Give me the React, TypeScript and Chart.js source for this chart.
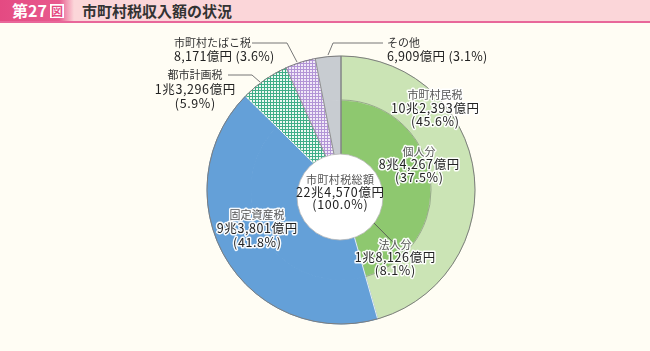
import React, { useEffect, useRef } from "react";
import { Chart, registerables } from "chart.js";

Chart.register(...registerables);

// ---- data (億円) ----
const categories = ["市町村民税", "固定資産税", "都市計画税", "市町村たばこ税", "その他"];
const amounts = [102393, 93801, 13296, 8171, 6909];
const percents = ["45.6%", "41.8%", "5.9%", "3.6%", "3.1%"];
const subCategories = ["個人分", "法人分"];
const subAmounts = [84267, 18126];
const subPercents = ["37.5%", "8.1%"];
const totalLabel = "市町村税総額";
const totalAmount = 224570;
const totalPercent = "100.0%";
const figNo = "第27";
const title = "市町村税収入額の状況";

const FONT = '"Noto Sans CJK JP", "Noto Sans", sans-serif';

function formatOku(n: number): string {
  const cho = Math.floor(n / 10000);
  const rest = n % 10000;
  const restStr = rest.toLocaleString("en-US");
  return cho > 0 ? `${cho}兆${restStr}億円` : `${restStr}億円`;
}

function makePattern(line: string, fill: string): CanvasPattern | string {
  const c = document.createElement("canvas");
  c.width = 3;
  c.height = 3;
  const g = c.getContext("2d");
  if (!g) return line;
  g.fillStyle = line;
  g.fillRect(0, 0, 3, 3);
  g.fillStyle = fill;
  g.fillRect(1, 1, 2, 2);
  const p = g.createPattern(c, "repeat");
  return p || line;
}

export default function App() {
  const ref = useRef<HTMLCanvasElement | null>(null);

  useEffect(() => {
    document.body.style.margin = "0";
    const canvas = ref.current;
    if (!canvas) return;

    const teal = makePattern("#3fae88", "#eef9f3");
    const lilac = makePattern("#b295d6", "#f1e9f8");
    const colors: any[] = ["#cbe4b5", "#64a0d8", teal, lilac, "#c8ccd1"];
    const innerColors: any[] = ["#8ec86f", "#8ec86f", ...colors.slice(1)];

    const drawLines = (
      ctx: CanvasRenderingContext2D,
      lines: { t: string; c: string; s: number; ls?: number }[],
      x: number,
      y: number,
      align: CanvasTextAlign,
      halo: boolean,
      gap = 13
    ) => {
      ctx.textAlign = "left";
      ctx.textBaseline = "middle";
      lines.forEach((l, i) => {
        ctx.font = `${l.s}px ${FONT}`;
        const ls = l.ls || 0;
        (ctx as any).letterSpacing = `${ls}px`;
        const w = ctx.measureText(l.t).width - ls;
        const xx = align === "center" ? x - w / 2 : align === "right" ? x - w : x;
        const yy = y + i * gap;
        if (halo) {
          ctx.lineJoin = "round";
          ctx.lineWidth = 3;
          ctx.strokeStyle = "rgba(255,255,255,0.95)";
          ctx.strokeText(l.t, xx, yy);
        }
        ctx.fillStyle = l.c;
        ctx.fillText(l.t, xx, yy);
        (ctx as any).letterSpacing = "0px";
      });
    };

    const NS = 11; // name size
    const VS = 12.5; // value size
    const LS = 0.6; // value letter spacing

    const decor = {
      id: "decor",
      afterDatasetsDraw(chart: any) {
        const ctx: CanvasRenderingContext2D = chart.ctx;
        const outer = chart.getDatasetMeta(0).data as any[];
        const inner = chart.getDatasetMeta(1).data as any[];
        const a0 = outer[0];
        const cx = a0.x;
        const cy = a0.y;
        const R = a0.outerRadius;
        const rMid = a0.innerRadius;
        const r0 = inner[0].innerRadius;
        ctx.save();

        // slice separators
        const sepColors = ["#555", "#f4f4f4", "#f4f4f4", "#8a8a8a", "#8a8a8a"];
        outer.forEach((arc: any, i: number) => {
          const ang = arc.startAngle;
          ctx.beginPath();
          ctx.moveTo(cx + r0 * Math.cos(ang), cy + r0 * Math.sin(ang));
          ctx.lineTo(cx + R * Math.cos(ang), cy + R * Math.sin(ang));
          ctx.strokeStyle = sepColors[i];
          ctx.lineWidth = 0.9;
          ctx.stroke();
        });
        // 個人分 / 法人分 separator
        const angSub = inner[0].endAngle;
        ctx.beginPath();
        ctx.moveTo(cx + r0 * Math.cos(angSub), cy + r0 * Math.sin(angSub));
        ctx.lineTo(cx + rMid * Math.cos(angSub), cy + rMid * Math.sin(angSub));
        ctx.strokeStyle = "#555";
        ctx.lineWidth = 0.9;
        ctx.stroke();
        // inner green arc boundary
        ctx.beginPath();
        ctx.arc(cx, cy, rMid, a0.startAngle, a0.endAngle);
        ctx.strokeStyle = "#8a9a80";
        ctx.lineWidth = 0.8;
        ctx.stroke();
        // outer outline
        ctx.beginPath();
        ctx.arc(cx, cy, R, 0, Math.PI * 2);
        ctx.strokeStyle = "#7d7d7d";
        ctx.lineWidth = 1;
        ctx.stroke();

        // white centre disc
        ctx.beginPath();
        ctx.arc(cx - 1, cy + 7, 43, 0, Math.PI * 2);
        ctx.fillStyle = "#ffffff";
        ctx.fill();
        ctx.strokeStyle = "#b8b8b8";
        ctx.lineWidth = 0.8;
        ctx.stroke();

        const nameC = "#555";
        const valC = "#222";

        // centre label
        drawLines(
          ctx,
          [
            { t: totalLabel, c: nameC, s: NS, ls: 0.4 },
            { t: formatOku(totalAmount), c: valC, s: VS, ls: LS },
            { t: `(${totalPercent})`, c: valC, s: VS, ls: LS },
          ],
          cx - 1,
          cy - 10,
          "center",
          false,
          12
        );
        // 市町村民税
        drawLines(
          ctx,
          [
            { t: categories[0], c: nameC, s: NS },
            { t: formatOku(amounts[0]), c: valC, s: VS, ls: LS },
            { t: `(${percents[0]})`, c: valC, s: VS, ls: LS },
          ],
          cx + 94,
          cy - 95,
          "center",
          true
        );
        // 個人分
        drawLines(
          ctx,
          [
            { t: subCategories[0], c: nameC, s: NS },
            { t: formatOku(subAmounts[0]), c: valC, s: VS, ls: LS },
            { t: `(${subPercents[0]})`, c: valC, s: VS, ls: LS },
          ],
          cx + 78,
          cy - 38,
          "center",
          true,
          12.5
        );
        // 法人分
        drawLines(
          ctx,
          [
            { t: subCategories[1], c: nameC, s: NS },
            { t: formatOku(subAmounts[1]), c: valC, s: VS, ls: LS },
            { t: `(${subPercents[1]})`, c: valC, s: VS, ls: LS },
          ],
          cx + 54,
          cy + 55,
          "center",
          true,
          12.5
        );
        // 固定資産税
        drawLines(
          ctx,
          [
            { t: categories[1], c: nameC, s: NS },
            { t: formatOku(amounts[1]), c: valC, s: VS, ls: LS },
            { t: `(${percents[1]})`, c: valC, s: VS, ls: LS },
          ],
          cx - 84,
          cy + 25,
          "center",
          true,
          13.5
        );
        // 都市計画税
        drawLines(
          ctx,
          [
            { t: categories[2], c: "#333", s: NS },
            { t: formatOku(amounts[2]), c: valC, s: VS, ls: LS },
            { t: `(${percents[2]})`, c: valC, s: VS, ls: LS },
          ],
          cx - 146,
          cy - 115,
          "center",
          false,
          14
        );
        // 市町村たばこ税
        drawLines(
          ctx,
          [
            { t: categories[3], c: "#333", s: NS },
            { t: `${formatOku(amounts[3])} (${percents[3]})`, c: valC, s: VS, ls: 0.3 },
          ],
          cx - 167,
          cy - 147,
          "left",
          false,
          13.5
        );
        // その他
        drawLines(
          ctx,
          [
            { t: categories[4], c: "#333", s: NS },
            { t: `${formatOku(amounts[4])} (${percents[4]})`, c: valC, s: VS, ls: 0.3 },
          ],
          cx + 46,
          cy - 147,
          "left",
          false,
          13.5
        );

        // leader lines
        ctx.strokeStyle = "#777";
        ctx.lineWidth = 1;
        const leader = (pts: number[][]) => {
          ctx.beginPath();
          ctx.moveTo(cx + pts[0][0], cy + pts[0][1]);
          for (let i = 1; i < pts.length; i++) ctx.lineTo(cx + pts[i][0], cy + pts[i][1]);
          ctx.stroke();
        };
        leader([[-113, -115], [-89, -115], [-81, -108]]);
        leader([[-89, -147], [-54, -147], [-44, -128]]);
        leader([[42, -147], [-8, -147], [-13, -135]]);

        ctx.restore();
      },
    };

    const chart = new Chart(canvas, {
      type: "doughnut",
      data: {
        labels: categories,
        datasets: [
          {
            data: amounts,
            backgroundColor: colors,
            borderColor: colors,
            borderWidth: 1,
            weight: 44,
          } as any,
          {
            data: [...subAmounts, ...amounts.slice(1)],
            backgroundColor: innerColors,
            borderColor: innerColors,
            borderWidth: 1,
            weight: 56,
          } as any,
        ],
      },
      options: {
        responsive: false,
        animation: false,
        radius: 134,
        cutout: "25.4%",
        layout: { padding: { left: 32, right: 0, top: 29, bottom: 0 } },
        plugins: { legend: { display: false }, tooltip: { enabled: false } },
        events: [],
      } as any,
      plugins: [decor],
    });
    return () => chart.destroy();
  }, []);

  return (
    <div
      style={{
        position: "absolute",
        left: 0,
        top: 0,
        width: 650,
        height: 351,
        background: "#fffdf4",
        overflow: "hidden",
        fontFamily: FONT,
      }}
    >
      <div
        style={{
          position: "absolute",
          left: 0,
          top: 0,
          width: 650,
          height: 21,
          background: "#fbd6d9",
          borderBottom: "2px solid #e8679a",
        }}
      />
      <div
        style={{
          position: "absolute",
          left: 0,
          top: 0,
          width: 74,
          height: 21,
          background: "linear-gradient(90deg, #e44a82 0%, #e85a8e 80%, #fbd6d9 100%)",
        }}
      />
      <div
        style={{
          position: "absolute",
          left: 12,
          top: 0,
          height: 21,
          display: "flex",
          alignItems: "center",
          color: "#fff",
          fontWeight: 700,
          fontSize: 16,
          lineHeight: "21px",
        }}
      >
        <span>{figNo}</span>
        <span
          style={{
            marginLeft: 3,
            background: "#fff",
            color: "#e44a82",
            fontSize: 12,
            lineHeight: "14px",
            padding: "0 1px",
            fontWeight: 700,
          }}
        >
          図
        </span>
      </div>
      <div
        style={{
          position: "absolute",
          left: 82,
          top: 0,
          height: 21,
          lineHeight: "21px",
          fontSize: 15,
          fontWeight: 700,
          color: "#333",
        }}
      >
        {title}
      </div>
      <canvas
        ref={ref}
        width={650}
        height={351}
        style={{ position: "absolute", left: 0, top: 0, width: 650, height: 351 }}
      />
    </div>
  );
}
